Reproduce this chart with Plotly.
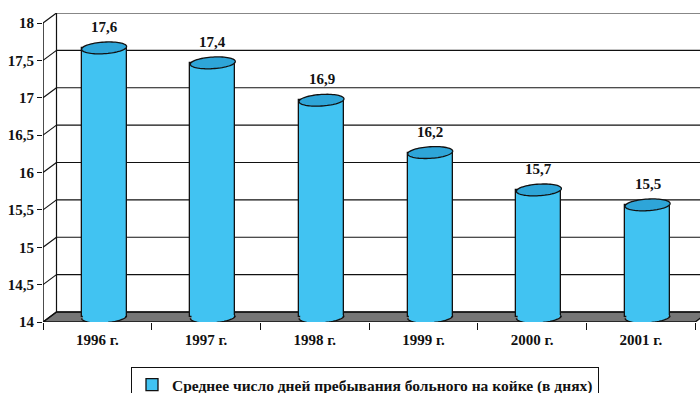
import numpy as np
import plotly.graph_objects as go

# Average length of hospital stay, days per year
years = ["1996 г.", "1997 г.", "1998 г.", "1999 г.", "2000 г.", "2001 г."]
days = [17.6, 17.4, 16.9, 16.2, 15.7, 15.5]
series_name = "Среднее число дней пребывания больного на койке (в днях)"

Y_MIN, Y_MAX, Y_STEP = 14.0, 18.0, 0.5

# --- pseudo-3D geometry (pixels -> data units) ---
W, H = 700, 393
M_L, M_R, M_T, M_B = 43, 0, 13, 71
PX_X = 108.7                      # pixels per category
PX_Y = 74.75                      # pixels per unit on the value axis
X0 = -0.5
X1 = X0 + (W - M_L - M_R) / PX_X
Y1 = Y_MIN + (H - M_T - M_B) / PX_Y
DX = 13.5 / PX_X                  # depth offset (back wall vs front)
DY = 10.0 / PX_Y
BAR_W = 45 / PX_X
ELL_A = 22.5                      # ellipse half width, px
ELL_B = 5.8                       # ellipse half height, px
SHEAR = -0.06                     # slight tilt of the cylinder caps

BODY = "#41c3f2"
CAP = "#2ea5d8"
FLOOR = "#767676"
INK = "#111111"
FONT = "Liberation Serif"

n = len(years)
pos = np.arange(n) + DX / 2
base = Y_MIN + DY / 2

fig = go.Figure()
fig.add_trace(go.Bar(
    x=pos,
    y=[v - base + DY / 2 for v in days],
    base=base,
    width=BAR_W,
    name=series_name,
    marker=dict(color=BODY, line=dict(color=INK, width=1.3)),
    showlegend=True,
))

shapes = []


def line(x0, y0, x1, y1, w=1.2, layer="below"):
    shapes.append(dict(type="line", xref="x", yref="y", x0=x0, y0=y0, x1=x1, y1=y1,
                       line=dict(color=INK, width=w), layer=layer))


def poly(pts, closed=True):
    s = "M " + " L ".join(f"{x:.5f},{y:.5f}" for x, y in pts)
    return s + (" Z" if closed else "")


# floor
floor = [(X0, Y_MIN), (n - 0.5, Y_MIN), (n - 0.5 + DX, Y_MIN + DY), (X0 + DX, Y_MIN + DY)]
shapes.append(dict(type="path", xref="x", yref="y", path=poly(floor),
                   fillcolor=FLOOR, line=dict(color=INK, width=1.4), layer="below"))

# back wall gridlines and side-wall diagonals
levels = np.arange(Y_MIN, Y_MAX + 1e-9, Y_STEP)
for v in levels:
    line(X0 + DX, v + DY, X1 + 1, v + DY)
    line(X0, v, X0 + DX, v + DY)
line(X0 + DX, Y_MIN + DY, X0 + DX, Y_MAX + DY)
line(X0, Y_MIN, X0, Y_MAX, w=1.5)

# cylinder caps
t = np.linspace(0, 2 * np.pi, 73)
for cx, v in zip(pos, days):
    cy = v + DY / 2
    px = ELL_A * np.cos(t)
    py = ELL_B * np.sin(t) - SHEAR * px
    top = list(zip(cx + px / PX_X, cy + py / PX_Y))
    shapes.append(dict(type="path", xref="x", yref="y", path=poly(top),
                       fillcolor=CAP, line=dict(color=INK, width=1.3), layer="above"))

    # bottom: lower half of the ellipse
    tb = np.linspace(0, np.pi, 37)
    bx = ELL_A * np.cos(tb)
    by = -ELL_B * np.sin(tb) - SHEAR * bx
    cb = base
    arc = list(zip(cx + bx / PX_X, cb + by / PX_Y))
    inset = 1.2 / PX_X
    cover = [(cx + (ELL_A / PX_X) - inset, cb + 2 / PX_Y)] + \
            [(cx + (x - cx) * (1 - inset * PX_X / ELL_A), y) for x, y in arc] + \
            [(cx - (ELL_A / PX_X) + inset, cb + 2 / PX_Y)]
    shapes.append(dict(type="path", xref="x", yref="y", path=poly(cover),
                       fillcolor=BODY, line=dict(width=0), layer="above"))
    shapes.append(dict(type="path", xref="x", yref="y", path=poly(arc, closed=False),
                       fillcolor="rgba(0,0,0,0)", line=dict(color=INK, width=1.3),
                       layer="above"))

annotations = []
for cx, v in zip(pos, days):
    annotations.append(dict(x=cx, y=v, xref="x", yref="y", text=f"{v:.1f}".replace(".", ","),
                            showarrow=False, yshift=26, yanchor="middle",
                            font=dict(family=FONT, size=15, color=INK, weight="bold")))

fig.update_layout(
    width=W, height=H,
    margin=dict(l=M_L, r=M_R, t=M_T, b=M_B),
    paper_bgcolor="white", plot_bgcolor="white",
    separators=", ",
    shapes=shapes,
    annotations=annotations,
    bargap=0,
    showlegend=True,
    legend=dict(
        xref="container", yref="container",
        x=131 / W, y=1 - 367 / H, xanchor="left", yanchor="top",
        orientation="h",
        bordercolor=INK, borderwidth=1, bgcolor="white",
        font=dict(family=FONT, size=15.5, color=INK, weight="bold"),
    ),
    xaxis=dict(
        range=[X0, X1], tickmode="array", tickvals=list(range(n)), ticktext=years,
        ticks="", showgrid=False, zeroline=False, showline=False,
        ticklabelstandoff=7,
        tickfont=dict(family=FONT, size=15, color=INK, weight="bold"),
        minor=dict(ticks="outside", ticklen=7, tickwidth=1.4, tickcolor=INK,
                   tickmode="array", tickvals=[i - 0.5 for i in range(n + 1)],
                   showgrid=False),
    ),
    yaxis=dict(
        range=[Y_MIN, Y1], tickmode="array", tickvals=list(levels),
        ticks="outside", ticklen=5, tickwidth=1.4, tickcolor=INK,
        showgrid=False, zeroline=False, showline=False,
        tickfont=dict(family=FONT, size=15, color=INK, weight="bold"),
    ),
)

fig.write_html("out.html")
